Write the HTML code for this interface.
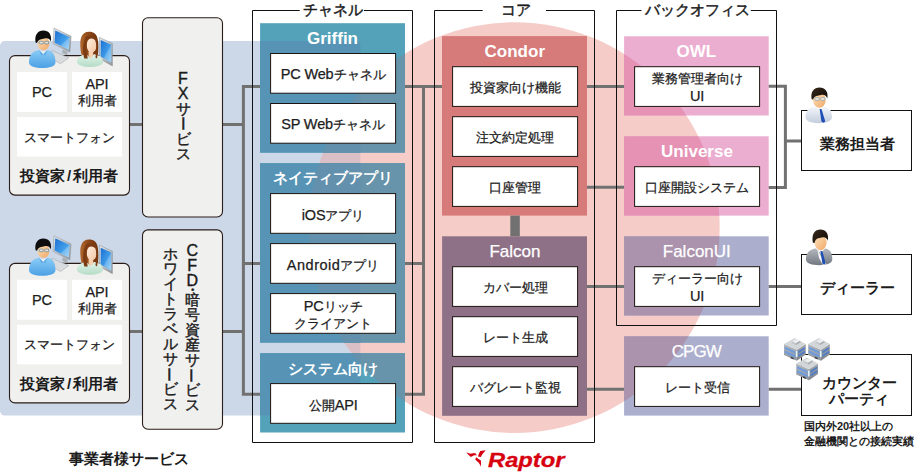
<!DOCTYPE html>
<html lang="ja"><head><meta charset="utf-8"><title>Raptor</title>
<style>
html,body{margin:0;padding:0;background:#fff}
body{width:914px;height:475px;overflow:hidden;font-family:"Liberation Sans",sans-serif}
#w{position:relative;width:914px;height:475px;overflow:hidden;background:#fff}
.t{position:absolute;width:200px;height:100px;display:flex;align-items:center;justify-content:center;text-align:center;white-space:nowrap}
.n{position:absolute;font-size:11px;font-weight:700;line-height:15px;color:#1c1c1c;white-space:nowrap}
.v{position:absolute;width:30px;text-align:center;font-weight:400;color:#1c1c1c;white-space:nowrap;-webkit-text-stroke:.4px #1c1c1c}
.v b{display:block;font-weight:400}
.v b.d{height:5px;line-height:5px}
.v b.a{font-size:16px}
.v i{display:inline-block;font-style:normal;transform:rotate(90deg) scaleY(-1)}
.l{font-size:14.5px;letter-spacing:-.15px}
.m{-webkit-text-stroke:.25px}
.b{-webkit-text-stroke:0}
.r{position:absolute;font-size:21px;font-weight:700;font-style:italic;color:#d7000f;line-height:26px;transform-origin:0 0;transform:scaleX(1.13);-webkit-text-stroke:.3px #d7000f;white-space:nowrap}
</style></head><body><div id="w">
<svg width="914" height="475" viewBox="0 0 914 475" style="position:absolute;left:0;top:0">
<defs>

<linearGradient id="gShirt" x1="0" y1="0" x2="0" y2="1"><stop offset="0" stop-color="#8ccdf7"/><stop offset="1" stop-color="#4ba0e4"/></linearGradient>
<linearGradient id="gScreen" x1="0" y1="0" x2="1" y2="1"><stop offset="0" stop-color="#1b6fd2"/><stop offset="0.55" stop-color="#3f9be8"/><stop offset="1" stop-color="#8fd0fa"/></linearGradient>
<linearGradient id="gSilver" x1="0" y1="0" x2="1" y2="1"><stop offset="0" stop-color="#e9ecee"/><stop offset="1" stop-color="#8f959b"/></linearGradient>
<linearGradient id="gSkin" x1="0" y1="0" x2="1" y2="1"><stop offset="0" stop-color="#fde3bd"/><stop offset="1" stop-color="#f0a868"/></linearGradient>
<linearGradient id="gSkinW" x1="0" y1="0" x2="1" y2="1"><stop offset="0" stop-color="#fff0e2"/><stop offset="1" stop-color="#f3c4a0"/></linearGradient>
<linearGradient id="gHairW" x1="0" y1="0" x2="1" y2="0"><stop offset="0" stop-color="#b0662c"/><stop offset="0.5" stop-color="#8a4518"/><stop offset="1" stop-color="#6b300c"/></linearGradient>
<linearGradient id="gGreen" x1="0" y1="0" x2="0" y2="1"><stop offset="0" stop-color="#e2f4ea"/><stop offset="1" stop-color="#b4dcc6"/></linearGradient>
<linearGradient id="gWhiteShirt" x1="0" y1="0" x2="0" y2="1"><stop offset="0" stop-color="#f4f7fb"/><stop offset="1" stop-color="#c3cddd"/></linearGradient>
<linearGradient id="gSuit" x1="0" y1="0" x2="0" y2="1"><stop offset="0" stop-color="#b4b9bf"/><stop offset="1" stop-color="#72787f"/></linearGradient>
<linearGradient id="gBL" x1="0" y1="0" x2="0" y2="1"><stop offset="0" stop-color="#b4b9be"/><stop offset="1" stop-color="#8d9298"/></linearGradient>
<linearGradient id="gBR" x1="0" y1="0" x2="0" y2="1"><stop offset="0" stop-color="#a3a8ad"/><stop offset="1" stop-color="#7f848a"/></linearGradient>
<linearGradient id="gHairM" x1="0" y1="0" x2="1" y2="1"><stop offset="0" stop-color="#3a2a1c"/><stop offset="1" stop-color="#0c0806"/></linearGradient>

<clipPath id="cc"><circle cx="514.3" cy="227.6" r="205.4"/></clipPath>
<clipPath id="cb"><rect x="0" y="41" width="360.4" height="374.6" rx="5"/></clipPath>
</defs>
<rect x="0" y="41" width="360.4" height="374.6" rx="5" fill="#ccd7e8"/>
<circle cx="514.3" cy="227.6" r="205.4" fill="#f5ccc7"/>
<g clip-path="url(#cc)"><rect x="0" y="41" width="360.4" height="374.6" rx="5" fill="#dbbfc6"/></g>
<rect x="260.1" y="23.2" width="144.9" height="129.4" fill="#54a1ba"/><rect x="260.1" y="163.2" width="144.9" height="179.4" fill="#54a1ba"/><rect x="260.1" y="353.2" width="144.9" height="79.3" fill="#54a1ba"/>
<g clip-path="url(#cb)"><rect x="260.1" y="23.2" width="144.9" height="129.4" fill="#5693b5"/><rect x="260.1" y="163.2" width="144.9" height="179.4" fill="#5693b5"/><rect x="260.1" y="353.2" width="144.9" height="79.3" fill="#5693b5"/></g>
<g clip-path="url(#cc)"><rect x="260.1" y="23.2" width="144.9" height="129.4" fill="#6793ab"/><rect x="260.1" y="163.2" width="144.9" height="179.4" fill="#6793ab"/><rect x="260.1" y="353.2" width="144.9" height="79.3" fill="#6793ab"/><g clip-path="url(#cb)"><rect x="260.1" y="23.2" width="144.9" height="129.4" fill="#6290ad"/><rect x="260.1" y="163.2" width="144.9" height="179.4" fill="#6290ad"/><rect x="260.1" y="353.2" width="144.9" height="79.3" fill="#6290ad"/></g></g>
<rect x="442" y="36.1" width="145" height="179.5" fill="#d67b79"/>
<rect x="442.1" y="236.3" width="144.9" height="179.5" fill="#8f7187"/>
<rect x="510.3" y="215.6" width="9.5" height="20.7" fill="#717171"/>
<rect x="624.1" y="36.3" width="144.6" height="79.2" fill="#ebadd0"/><rect x="624.1" y="136.3" width="144.6" height="79.3" fill="#ebadd0"/>
<g clip-path="url(#cc)"><rect x="624.1" y="36.3" width="144.6" height="79.2" fill="#e592b5"/><rect x="624.1" y="136.3" width="144.6" height="79.3" fill="#e592b5"/></g>
<rect x="624.1" y="236.3" width="144.6" height="79.2" fill="#abaecd"/><rect x="624.1" y="336.3" width="144.6" height="79.3" fill="#abaecd"/>
<g clip-path="url(#cc)"><rect x="624.1" y="236.3" width="144.6" height="79.2" fill="#ab93ad"/><rect x="624.1" y="336.3" width="144.6" height="79.3" fill="#ab93ad"/></g>
<path d="M130 124.4H142.4 M222.5 124.4H243.4 M130 331.4H142.4 M222.5 331.4H243.4" fill="none" stroke="#717171" stroke-width="3"/>
<path d="M260 86.5H243.4V394.3H260 M243.4 263.5H260" fill="none" stroke="#717171" stroke-width="3"/>
<path d="M405 86.5H442 M423.5 86.5V394.3H405 M405 263.5H423.5" fill="none" stroke="#717171" stroke-width="3"/>
<path d="M587 86.5H624.1 M587 187.3H624.1 M587 286.5H624.1 M587 389.2H624.1" fill="none" stroke="#717171" stroke-width="3"/>
<path d="M768.7 86.3H785.4V187.4H768.7 M785.4 141H801.5 M768.7 286.5H801.5 M768.7 389.3H801.5" fill="none" stroke="#717171" stroke-width="3"/>
<path d="M299.7 10.5H252.5V442.5H412.5V10.5H364" fill="none" stroke="#111" stroke-width="1"/>
<path d="M482.7 10.5H434.5V442.5H594.5V10.5H546" fill="none" stroke="#111" stroke-width="1"/>
<path d="M641.5 10.5H616.5V325.5H776.5V10.5H750.8" fill="none" stroke="#111" stroke-width="1"/>
<rect x="9.5" y="55.6" width="120" height="139.5" rx="5.5" fill="#f0f0ef" stroke="#2a1c16" stroke-width="1.1"/>
<rect x="17" y="72" width="50" height="40" fill="#fff"/><rect x="72" y="72" width="50" height="40" fill="#fff"/><rect x="17" y="117" width="105" height="39.6" fill="#fff"/>
<rect x="9.5" y="263.40000000000003" width="120" height="139.5" rx="5.5" fill="#f0f0ef" stroke="#2a1c16" stroke-width="1.1"/>
<rect x="17" y="279.8" width="50" height="40" fill="#fff"/><rect x="72" y="279.8" width="50" height="40" fill="#fff"/><rect x="17" y="324.8" width="105" height="39.6" fill="#fff"/>
<rect x="142.5" y="17.7" width="80" height="199.3" rx="5.5" fill="#f0f0ef" stroke="#2a1c16" stroke-width="1.1"/>
<rect x="142.5" y="229.9" width="80" height="199.3" rx="5.5" fill="#f0f0ef" stroke="#2a1c16" stroke-width="1.1"/>
<rect x="270.6" y="53.5" width="125.0" height="39.7" fill="#fff" stroke="#1c1410" stroke-width="1"/>
<rect x="270.6" y="103.5" width="125.0" height="39.7" fill="#fff" stroke="#1c1410" stroke-width="1"/>
<rect x="270.6" y="193.6" width="125.0" height="39.7" fill="#fff" stroke="#1c1410" stroke-width="1"/>
<rect x="270.6" y="243.6" width="125.0" height="39.7" fill="#fff" stroke="#1c1410" stroke-width="1"/>
<rect x="270.6" y="293.6" width="125.0" height="39.7" fill="#fff" stroke="#1c1410" stroke-width="1"/>
<rect x="270.6" y="383.6" width="125.0" height="39.7" fill="#fff" stroke="#1c1410" stroke-width="1"/>
<rect x="452.6" y="66.7" width="125.0" height="39.7" fill="#fff" stroke="#1c1410" stroke-width="1"/>
<rect x="452.6" y="116.7" width="125.0" height="39.7" fill="#fff" stroke="#1c1410" stroke-width="1"/>
<rect x="452.6" y="166.7" width="125.0" height="39.7" fill="#fff" stroke="#1c1410" stroke-width="1"/>
<rect x="452.6" y="266.7" width="125.0" height="39.7" fill="#fff" stroke="#1c1410" stroke-width="1"/>
<rect x="452.6" y="316.7" width="125.0" height="39.7" fill="#fff" stroke="#1c1410" stroke-width="1"/>
<rect x="452.6" y="366.7" width="125.0" height="39.7" fill="#fff" stroke="#1c1410" stroke-width="1"/>
<rect x="634.6" y="66.7" width="125.0" height="39.7" fill="#fff" stroke="#1c1410" stroke-width="1"/>
<rect x="634.6" y="166.7" width="125.0" height="39.7" fill="#fff" stroke="#1c1410" stroke-width="1"/>
<rect x="634.6" y="266.7" width="125.0" height="39.7" fill="#fff" stroke="#1c1410" stroke-width="1"/>
<rect x="634.6" y="366.7" width="125.0" height="39.7" fill="#fff" stroke="#1c1410" stroke-width="1"/>
<rect x="801.5" y="110.5" width="110.0" height="60.0" fill="#fff" stroke="#111" stroke-width="1"/>
<rect x="801.5" y="254.5" width="110.0" height="60.0" fill="#fff" stroke="#111" stroke-width="1"/>
<rect x="801.5" y="354.5" width="110.0" height="61.0" fill="#fff" stroke="#111" stroke-width="1"/>
<g transform="translate(0,0)">
<polygon points="52,50.5 68.8,57.8 60.5,63.8 49.5,57" fill="#d9dcdf" stroke="#9a9fa4" stroke-width=".5"/>
<polygon points="62.6,49.5 67.6,51.8 67.2,55.2 62.2,53" fill="#a9aeb3"/>
<polygon points="54,28 71.1,36.2 69.9,52.1 53.1,43.7" fill="url(#gSilver)" stroke="#8d9398" stroke-width=".5"/>
<polygon points="55.3,30.4 69.7,37.3 68.7,49.8 54.5,42.7" fill="url(#gScreen)"/>
<polygon points="69.7,37.3 68.7,49.8 60.5,45.7" fill="#fff" fill-opacity=".22"/>
<path d="M29 62.5C29 55 33 51 38.8 50L43.2 53.8L47.8 50C53 51 55.5 55 55.5 62.5C55.5 66.3 49 68 42.2 68C35.5 68 29 66.3 29 62.5Z" fill="url(#gShirt)"/>
<path d="M40.3 50.2L43.2 54.5L46.3 50.2L43.3 51.8Z" fill="#eef6fc"/>
<path d="M38.8 50L41.6 55.6L43.2 53.9ZM47.8 50L45 55.6L43.2 53.9Z" fill="#3f8fd6" fill-opacity=".55"/>
<ellipse cx="43.4" cy="43.2" rx="5.9" ry="7" fill="url(#gSkin)"/>
<path d="M35.6 42.5C34.2 35 38 30.6 43.2 30.6C48.8 30.6 52 34.5 50.9 41.5C49.8 38.6 47.5 37.6 44.5 38.4C41.5 39.2 38.6 38.8 37 43Z" fill="#0d0d0d"/>
<rect x="39.2" y="41.3" width="4" height="2.6" rx=".8" fill="#d9efff" fill-opacity=".7" stroke="#4f7688" stroke-width=".6"/>
<rect x="44.6" y="41.3" width="4" height="2.6" rx=".8" fill="#d9efff" fill-opacity=".7" stroke="#4f7688" stroke-width=".6"/>
<polygon points="99.4,37.4 112.4,43.4 112.4,65.9 99.4,58.7" fill="url(#gSilver)" stroke="#858b91" stroke-width=".5"/>
<polygon points="100.7,39.9 111.2,44.8 111.2,62.6 100.7,56.6" fill="url(#gScreen)"/>
<polygon points="111.2,44.8 111.2,62.6 103.5,58.2" fill="#fff" fill-opacity=".2"/>
<path d="M88.8 31.8C82.5 31.8 80 37.5 80.3 45C80.5 52 81.6 56.8 84 59L96.6 59C98.6 55 98.6 46 97.8 40C97 34.2 94 31.8 88.8 31.8Z" fill="url(#gHairW)"/>
<path d="M77 62C77 57.3 81 54.8 86.2 54.2L90 57.5L94 54.2C99 54.8 103 57.3 103 62C103 65.4 96 67 90 67C84 67 77 65.4 77 62Z" fill="url(#gGreen)"/>
<rect x="88.6" y="50" width="4.6" height="7.5" rx="2" fill="#f5cfae"/>
<ellipse cx="91.7" cy="45.3" rx="5" ry="7.2" fill="url(#gSkinW)"/>
<path d="M86.6 36.3C91 34.8 96 36.3 97.2 41C98.2 47 98 54 97 58.6L95.4 57.5C96.6 52 96.6 45 95.4 40.3C93 38.2 89.6 38 87.2 40C86.3 46 86.5 53 87.8 58.6L84.3 58.6C82.4 52 82.4 42 86.6 36.3Z" fill="#7c3b12"/>
</g><g transform="translate(0,207.8)">
<polygon points="52,50.5 68.8,57.8 60.5,63.8 49.5,57" fill="#d9dcdf" stroke="#9a9fa4" stroke-width=".5"/>
<polygon points="62.6,49.5 67.6,51.8 67.2,55.2 62.2,53" fill="#a9aeb3"/>
<polygon points="54,28 71.1,36.2 69.9,52.1 53.1,43.7" fill="url(#gSilver)" stroke="#8d9398" stroke-width=".5"/>
<polygon points="55.3,30.4 69.7,37.3 68.7,49.8 54.5,42.7" fill="url(#gScreen)"/>
<polygon points="69.7,37.3 68.7,49.8 60.5,45.7" fill="#fff" fill-opacity=".22"/>
<path d="M29 62.5C29 55 33 51 38.8 50L43.2 53.8L47.8 50C53 51 55.5 55 55.5 62.5C55.5 66.3 49 68 42.2 68C35.5 68 29 66.3 29 62.5Z" fill="url(#gShirt)"/>
<path d="M40.3 50.2L43.2 54.5L46.3 50.2L43.3 51.8Z" fill="#eef6fc"/>
<path d="M38.8 50L41.6 55.6L43.2 53.9ZM47.8 50L45 55.6L43.2 53.9Z" fill="#3f8fd6" fill-opacity=".55"/>
<ellipse cx="43.4" cy="43.2" rx="5.9" ry="7" fill="url(#gSkin)"/>
<path d="M35.6 42.5C34.2 35 38 30.6 43.2 30.6C48.8 30.6 52 34.5 50.9 41.5C49.8 38.6 47.5 37.6 44.5 38.4C41.5 39.2 38.6 38.8 37 43Z" fill="#0d0d0d"/>
<rect x="39.2" y="41.3" width="4" height="2.6" rx=".8" fill="#d9efff" fill-opacity=".7" stroke="#4f7688" stroke-width=".6"/>
<rect x="44.6" y="41.3" width="4" height="2.6" rx=".8" fill="#d9efff" fill-opacity=".7" stroke="#4f7688" stroke-width=".6"/>
<polygon points="99.4,37.4 112.4,43.4 112.4,65.9 99.4,58.7" fill="url(#gSilver)" stroke="#858b91" stroke-width=".5"/>
<polygon points="100.7,39.9 111.2,44.8 111.2,62.6 100.7,56.6" fill="url(#gScreen)"/>
<polygon points="111.2,44.8 111.2,62.6 103.5,58.2" fill="#fff" fill-opacity=".2"/>
<path d="M88.8 31.8C82.5 31.8 80 37.5 80.3 45C80.5 52 81.6 56.8 84 59L96.6 59C98.6 55 98.6 46 97.8 40C97 34.2 94 31.8 88.8 31.8Z" fill="url(#gHairW)"/>
<path d="M77 62C77 57.3 81 54.8 86.2 54.2L90 57.5L94 54.2C99 54.8 103 57.3 103 62C103 65.4 96 67 90 67C84 67 77 65.4 77 62Z" fill="url(#gGreen)"/>
<rect x="88.6" y="50" width="4.6" height="7.5" rx="2" fill="#f5cfae"/>
<ellipse cx="91.7" cy="45.3" rx="5" ry="7.2" fill="url(#gSkinW)"/>
<path d="M86.6 36.3C91 34.8 96 36.3 97.2 41C98.2 47 98 54 97 58.6L95.4 57.5C96.6 52 96.6 45 95.4 40.3C93 38.2 89.6 38 87.2 40C86.3 46 86.5 53 87.8 58.6L84.3 58.6C82.4 52 82.4 42 86.6 36.3Z" fill="#7c3b12"/>
</g><g>
<path d="M805.5 117C805.5 110.5 809.5 107.3 815.2 106.5L819.5 110L823.8 106.5C829 107.3 832.1 110.5 832.1 117C832.1 121.3 826 123.2 818.8 123.2C811.5 123.2 805.5 121.3 805.5 117Z" fill="url(#gWhiteShirt)"/>
<path d="M819.6 108.8L821.6 109.3L825.3 121.6L823.6 122.8L821.4 121.5Z" fill="#1f4fb4"/>
<ellipse cx="819.4" cy="100" rx="6.3" ry="7.8" fill="url(#gSkin)"/>
<path d="M811.6 99C810.4 91.5 814 87.6 819.4 87.6C825.2 87.6 828.6 91.6 827.3 98.6C826.4 95.6 824.2 94.3 821 95C817.6 95.8 814.6 95.2 813 99.8Z" fill="url(#gHairM)"/>
<rect x="815" y="97.6" width="4.2" height="2.8" rx=".8" fill="#e4f3ff" fill-opacity=".7" stroke="#7d97a8" stroke-width=".6"/>
<rect x="820.6" y="97.6" width="4.2" height="2.8" rx=".8" fill="#e4f3ff" fill-opacity=".7" stroke="#7d97a8" stroke-width=".6"/>
</g><g>
<path d="M805.9 259.5C805.9 252.5 810 249.3 815.8 248.5L820.7 253L825.2 248.5C830 249.3 832.3 252.5 832.3 259.5C832.3 263.4 826.5 265.2 819.2 265.2C812 265.2 805.9 263.4 805.9 259.5Z" fill="url(#gSuit)"/>
<path d="M817.2 248.6L820.8 256L826.6 264.6L823 265L819 258Z" fill="#f4f6f9"/>
<path d="M820.4 250.8L822.4 251.2L825.6 263.2L824.2 264.8L822.4 263.4Z" fill="#1f4fb4"/>
<ellipse cx="820.6" cy="242.6" rx="6" ry="7.6" fill="url(#gSkin)"/>
<path d="M812.8 242.5C811.4 234 815 229.6 820.4 229.6C826 229.6 829 233.6 827.8 240.8C826.8 237.6 824.8 236.6 821.8 237.4C818.6 238.2 815.8 237.4 814.4 243.2Z" fill="url(#gHairM)"/>
</g><g transform="translate(784,338)">
<polygon points="0,6 12.8,11.8 12.8,22.8 0,17" fill="url(#gBL)"/>
<polygon points="12.8,11.8 21.8,6 21.8,16.6 12.8,22.8" fill="url(#gBR)"/>
<polygon points="0,6 10.7,0 21.8,6 12.8,11.8" fill="#d3d6d9"/>
<polygon points="8,3.3 12.4,0.9 16.3,2.8 11.8,5.3" fill="#eceef0"/>
<polygon points="8,3.3 11.8,5.3 11.8,7.2 8,5.2" fill="#c3c7cb"/>
<polygon points="11.8,5.3 16.3,2.8 16.3,4.6 11.8,7.2" fill="#a9aeb3"/>
<path d="M0.9 8.81L11.4 13.56V15.86L0.9 11.11ZM0.9 12.51L11.4 17.26V19.66L0.9 14.91Z" fill="#6f9cdc"/>
<path d="M14.2 13.30L21 8.92V11.12L14.2 15.50ZM14.2 16.90L21 12.52V14.72L14.2 19.10Z" fill="#4d7cc9"/>
<rect x="11.9" y="13" width="1.5" height="6" rx=".5" fill="#e4f6ff"/>
<polygon points="6.6,18.4 9.6,19.8 9.6,21.6 6.6,20.2" fill="#3f4347"/>
</g><g transform="translate(808.1,338)">
<polygon points="0,6 12.8,11.8 12.8,22.8 0,17" fill="url(#gBL)"/>
<polygon points="12.8,11.8 21.8,6 21.8,16.6 12.8,22.8" fill="url(#gBR)"/>
<polygon points="0,6 10.7,0 21.8,6 12.8,11.8" fill="#d3d6d9"/>
<polygon points="8,3.3 12.4,0.9 16.3,2.8 11.8,5.3" fill="#eceef0"/>
<polygon points="8,3.3 11.8,5.3 11.8,7.2 8,5.2" fill="#c3c7cb"/>
<polygon points="11.8,5.3 16.3,2.8 16.3,4.6 11.8,7.2" fill="#a9aeb3"/>
<path d="M0.9 8.81L11.4 13.56V15.86L0.9 11.11ZM0.9 12.51L11.4 17.26V19.66L0.9 14.91Z" fill="#6f9cdc"/>
<path d="M14.2 13.30L21 8.92V11.12L14.2 15.50ZM14.2 16.90L21 12.52V14.72L14.2 19.10Z" fill="#4d7cc9"/>
<rect x="11.9" y="13" width="1.5" height="6" rx=".5" fill="#e4f6ff"/>
<polygon points="6.6,18.4 9.6,19.8 9.6,21.6 6.6,20.2" fill="#3f4347"/>
</g><g transform="translate(796.2,357.5)">
<polygon points="0,6 12.8,11.8 12.8,22.8 0,17" fill="url(#gBL)"/>
<polygon points="12.8,11.8 21.8,6 21.8,16.6 12.8,22.8" fill="url(#gBR)"/>
<polygon points="0,6 10.7,0 21.8,6 12.8,11.8" fill="#d3d6d9"/>
<polygon points="8,3.3 12.4,0.9 16.3,2.8 11.8,5.3" fill="#eceef0"/>
<polygon points="8,3.3 11.8,5.3 11.8,7.2 8,5.2" fill="#c3c7cb"/>
<polygon points="11.8,5.3 16.3,2.8 16.3,4.6 11.8,7.2" fill="#a9aeb3"/>
<path d="M0.9 8.81L11.4 13.56V15.86L0.9 11.11ZM0.9 12.51L11.4 17.26V19.66L0.9 14.91Z" fill="#6f9cdc"/>
<path d="M14.2 13.30L21 8.92V11.12L14.2 15.50ZM14.2 16.90L21 12.52V14.72L14.2 19.10Z" fill="#4d7cc9"/>
<rect x="11.9" y="13" width="1.5" height="6" rx=".5" fill="#e4f6ff"/>
<polygon points="6.6,18.4 9.6,19.8 9.6,21.6 6.6,20.2" fill="#3f4347"/>
</g><g fill="#d7000f"><path d="M466.3 452.3C468.5 453.4 470.6 454 472 453.6C473.4 453 474.6 452.8 475.9 453.7L476.8 455.6C475.8 455 474.8 455 473.6 455.6C472.3 456.6 471.2 457.1 470.2 456.4C468.8 455.2 467.4 453.8 466.3 452.3Z"/><path d="M480.2 451.1L485.8 450.2C483.6 452.4 482 454.6 480.9 456.9L477.9 456.6C478.4 454.8 479.2 453 480.2 451.1Z"/><path d="M476.2 457.3C477.6 458.6 479.4 459.6 480.9 460.5C481.2 462.6 481 464.8 480.7 466.8C480.2 465.2 479.6 463.8 478.6 462.6C477.4 461.4 476 460.6 475.2 459.5Z"/></g>
</svg>
<div class="t m" style="left:233px;top:-39.7px;font-size:15px;font-weight:400;color:#1c1c1c;line-height:18.75px;-webkit-text-stroke:.45px"><span>チャネル</span></div>
<div class="t m" style="left:415.9px;top:-39.7px;font-size:15px;font-weight:400;color:#1c1c1c;line-height:18.75px;-webkit-text-stroke:.45px"><span>コア</span></div>
<div class="t m" style="left:597.5px;top:-39.7px;font-size:15px;font-weight:400;color:#1c1c1c;line-height:18.75px;-webkit-text-stroke:.45px"><span>バックオフィス</span></div>
<div class="t b" style="left:232.5px;top:-11.6px;font-size:17px;font-weight:700;color:#fff;line-height:21.25px;"><span>Griffin</span></div>
<div class="t b" style="left:232.5px;top:128.7px;font-size:15px;font-weight:700;color:#fff;line-height:18.75px;"><span>ネイティブアプリ</span></div>
<div class="t b" style="left:232.5px;top:319.2px;font-size:15px;font-weight:700;color:#fff;line-height:18.75px;"><span>システム向け</span></div>
<div class="t b" style="left:414.79999999999995px;top:1.9px;font-size:17px;font-weight:700;color:#fff;line-height:21.25px;"><span>Condor</span></div>
<div class="t m" style="left:415px;top:201.9px;font-size:17px;font-weight:400;color:#fff;line-height:21.25px;"><span>Falcon</span></div>
<div class="t b" style="left:596.3px;top:1.9px;font-size:17px;font-weight:700;color:#fff;line-height:21.25px;"><span>OWL</span></div>
<div class="t b" style="left:597px;top:101.9px;font-size:17px;font-weight:700;color:#fff;line-height:21.25px;"><span>Universe</span></div>
<div class="t m" style="left:596.8px;top:201.9px;font-size:17px;font-weight:400;color:#fff;line-height:21.25px;"><span>FalconUI</span></div>
<div class="t m" style="left:596.4px;top:301.9px;font-size:17px;font-weight:400;color:#fff;line-height:21.25px;letter-spacing:-.9px"><span>CPGW</span></div>
<div class="t m" style="left:233.10000000000002px;top:25.2px;font-size:13px;font-weight:400;color:#1c1c1c;line-height:16.5px;"><span><span class="l">PC Web</span>チャネル</span></div>
<div class="t m" style="left:233.10000000000002px;top:75.2px;font-size:13px;font-weight:400;color:#1c1c1c;line-height:16.5px;"><span><span class="l">SP Web</span>チャネル</span></div>
<div class="t m" style="left:233.10000000000002px;top:165.3px;font-size:13px;font-weight:400;color:#1c1c1c;line-height:16.5px;"><span><span class="l">iOS</span>アプリ</span></div>
<div class="t m" style="left:233.10000000000002px;top:215.3px;font-size:13px;font-weight:400;color:#1c1c1c;line-height:16.5px;"><span><span class="l" style="letter-spacing:.5px">Android</span>アプリ</span></div>
<div class="t m" style="left:233.10000000000002px;top:265.3px;font-size:13px;font-weight:400;color:#1c1c1c;line-height:16.5px;"><span><span class="l">PC</span>リッチ<br>クライアント</span></div>
<div class="t m" style="left:233.10000000000002px;top:355.3px;font-size:13px;font-weight:400;color:#1c1c1c;line-height:16.5px;"><span>公開<span class="l">API</span></span></div>
<div class="t m" style="left:415.1px;top:38.4px;font-size:13px;font-weight:400;color:#1c1c1c;line-height:16.25px;"><span>投資家向け機能</span></div>
<div class="t m" style="left:415.1px;top:88.4px;font-size:13px;font-weight:400;color:#1c1c1c;line-height:16.25px;"><span>注文約定処理</span></div>
<div class="t m" style="left:415.1px;top:138.4px;font-size:13px;font-weight:400;color:#1c1c1c;line-height:16.25px;"><span>口座管理</span></div>
<div class="t m" style="left:415.1px;top:238.4px;font-size:13px;font-weight:400;color:#1c1c1c;line-height:16.25px;"><span>カバー処理</span></div>
<div class="t m" style="left:415.1px;top:288.4px;font-size:13px;font-weight:400;color:#1c1c1c;line-height:16.25px;"><span>レート生成</span></div>
<div class="t m" style="left:415.1px;top:338.4px;font-size:13px;font-weight:400;color:#1c1c1c;line-height:16.25px;"><span>バグレート監視</span></div>
<div class="t m" style="left:597.1px;top:38.4px;font-size:13px;font-weight:400;color:#1c1c1c;line-height:16.5px;"><span>業務管理者向け<br><span class="l">UI</span></span></div>
<div class="t m" style="left:597.1px;top:138.4px;font-size:13px;font-weight:400;color:#1c1c1c;line-height:16.5px;"><span>口座開設システム</span></div>
<div class="t m" style="left:597.1px;top:238.4px;font-size:13px;font-weight:400;color:#1c1c1c;line-height:16.5px;"><span>ディーラー向け<br><span class="l">UI</span></span></div>
<div class="t m" style="left:597.1px;top:338.4px;font-size:13px;font-weight:400;color:#1c1c1c;line-height:16.5px;"><span>レート受信</span></div>
<div class="t m" style="left:-58px;top:43px;font-size:13px;font-weight:400;color:#1c1c1c;line-height:16.25px;"><span><span class="l">PC</span></span></div>
<div class="t m" style="left:-3px;top:42.6px;font-size:13px;font-weight:400;color:#1c1c1c;line-height:16px;"><span><span class="l">API</span><br>利用者</span></div>
<div class="t m" style="left:-30.5px;top:87.8px;font-size:13px;font-weight:400;color:#1c1c1c;line-height:16.25px;"><span>スマートフォン</span></div>
<div class="t b" style="left:-31px;top:126.7px;font-size:15px;font-weight:700;color:#1c1c1c;line-height:18.75px;"><span>投資家<span style="margin:0 1.5px">/</span>利用者</span></div>
<div class="t m" style="left:-58px;top:250.8px;font-size:13px;font-weight:400;color:#1c1c1c;line-height:16.25px;"><span><span class="l">PC</span></span></div>
<div class="t m" style="left:-3px;top:250.4px;font-size:13px;font-weight:400;color:#1c1c1c;line-height:16px;"><span><span class="l">API</span><br>利用者</span></div>
<div class="t m" style="left:-30.5px;top:295.6px;font-size:13px;font-weight:400;color:#1c1c1c;line-height:16.25px;"><span>スマートフォン</span></div>
<div class="t b" style="left:-31px;top:334.5px;font-size:15px;font-weight:700;color:#1c1c1c;line-height:18.75px;"><span>投資家<span style="margin:0 1.5px">/</span>利用者</span></div>
<div class="t b" style="left:29px;top:409.8px;font-size:15px;font-weight:700;color:#1c1c1c;line-height:18.75px;"><span>事業者様サービス</span></div>
<div class="t b" style="left:757.8px;top:94.3px;font-size:15px;font-weight:700;color:#1c1c1c;line-height:18.75px;"><span>業務担当者</span></div>
<div class="t b" style="left:757.5px;top:238.2px;font-size:15px;font-weight:700;color:#1c1c1c;line-height:18.75px;"><span>ディーラー</span></div>
<div class="t b" style="left:759.4px;top:340.6px;font-size:15px;font-weight:700;color:#1c1c1c;line-height:16px;"><span>カウンター<br>パーティ</span></div>
<div class="n" style="left:804px;top:418.5px">国内外20社以上の<br>金融機関との接続実績</div>
<div class="v" style="left:168px;top:71px;font-size:15px;line-height:15px"><b class="a">F</b><b class="a">X</b><b>サ</b><b><i>ー</i></b><b>ビ</b><b>ス</b></div>
<div class="v" style="left:177.2px;top:243px;font-size:14.5px;line-height:15px"><b class="a">C</b><b class="a">F</b><b class="a">D</b><b class="d">・</b><b>暗</b><b>号</b><b>資</b><b>産</b><b>サ</b><b><i>ー</i></b><b>ビ</b><b>ス</b></div>
<div class="v" style="left:155.4px;top:246.7px;font-size:14.5px;line-height:15px"><b>ホ</b><b>ワ</b><b>イ</b><b>ト</b><b>ラ</b><b>ベ</b><b>ル</b><b>サ</b><b><i>ー</i></b><b>ビ</b><b>ス</b></div>
<div class="r" style="left:487.6px;top:446.6px">Raptor</div>
</div></body></html>
